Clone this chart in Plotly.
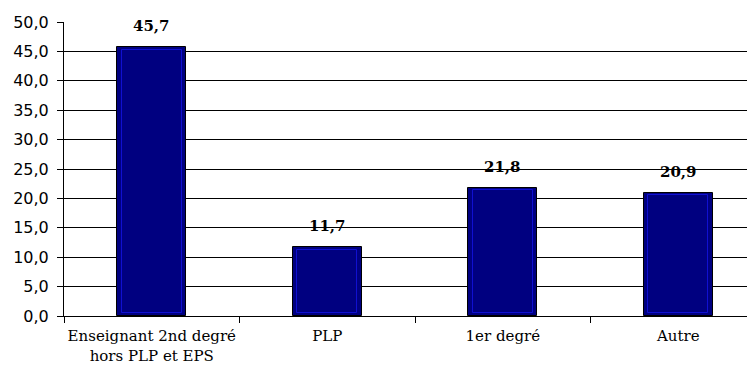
import plotly.graph_objects as go

categories = ["Enseignant 2nd degré<br>hors PLP et EPS", "PLP", "1er degré", "Autre"]
values = [45.7, 11.7, 21.8, 20.9]
labels = ["45,7", "11,7", "21,8", "20,9"]
y_ticks = [0, 5, 10, 15, 20, 25, 30, 35, 40, 45, 50]
y_tick_text = ["0,0", "5,0", "10,0", "15,0", "20,0", "25,0", "30,0", "35,0", "40,0", "45,0", "50,0"]

SERIF = "DejaVu Serif"

fig = go.Figure()
fig.add_trace(go.Bar(
    x=categories, y=values, width=0.393,
    marker=dict(color="#000080", line=dict(color="#000000", width=1)),
    hoverinfo="skip",
))
fig.add_trace(go.Bar(
    x=categories, y=[v - 0.9 for v in values], base=0.5, width=0.34,
    marker=dict(color="rgba(0,0,0,0)", line=dict(color="#1010d0", width=1)),
    hoverinfo="skip",
))
for c, v, t in zip(categories, values, labels):
    fig.add_annotation(
        x=c, y=v, text="<b>" + t + "</b>", showarrow=False,
        yanchor="bottom", yshift=10,
        font=dict(family=SERIF, size=15, color="#000"),
    )
fig.update_layout(
    width=747, height=361,
    margin=dict(l=56, r=0, t=14, b=53, autoexpand=False),
    paper_bgcolor="white", plot_bgcolor="white",
    showlegend=False,
    barmode="overlay",
    bargap=0,
)
fig.update_xaxes(
    type="category", range=[-0.5, 3.437],
    tickson="boundaries", ticks="outside", ticklen=6, tickcolor="#000",
    showline=True, linecolor="#000", linewidth=1,
    tickfont=dict(family=SERIF, size=15, color="#000"),
    tickangle=0, automargin=False, ticklabelstandoff=6,
    showgrid=False,
)
fig.update_yaxes(
    range=[0, 50], tickvals=y_ticks, ticktext=y_tick_text,
    ticks="outside", ticklen=6, tickcolor="#000",
    showline=True, linecolor="#000", linewidth=1,
    showgrid=True, gridcolor="#000", gridwidth=1,
    tickfont=dict(family="DejaVu Sans", size=16, color="#000"),
    automargin=False, ticklabelstandoff=5,
    zeroline=False,
)
fig.write_html("out.html")
